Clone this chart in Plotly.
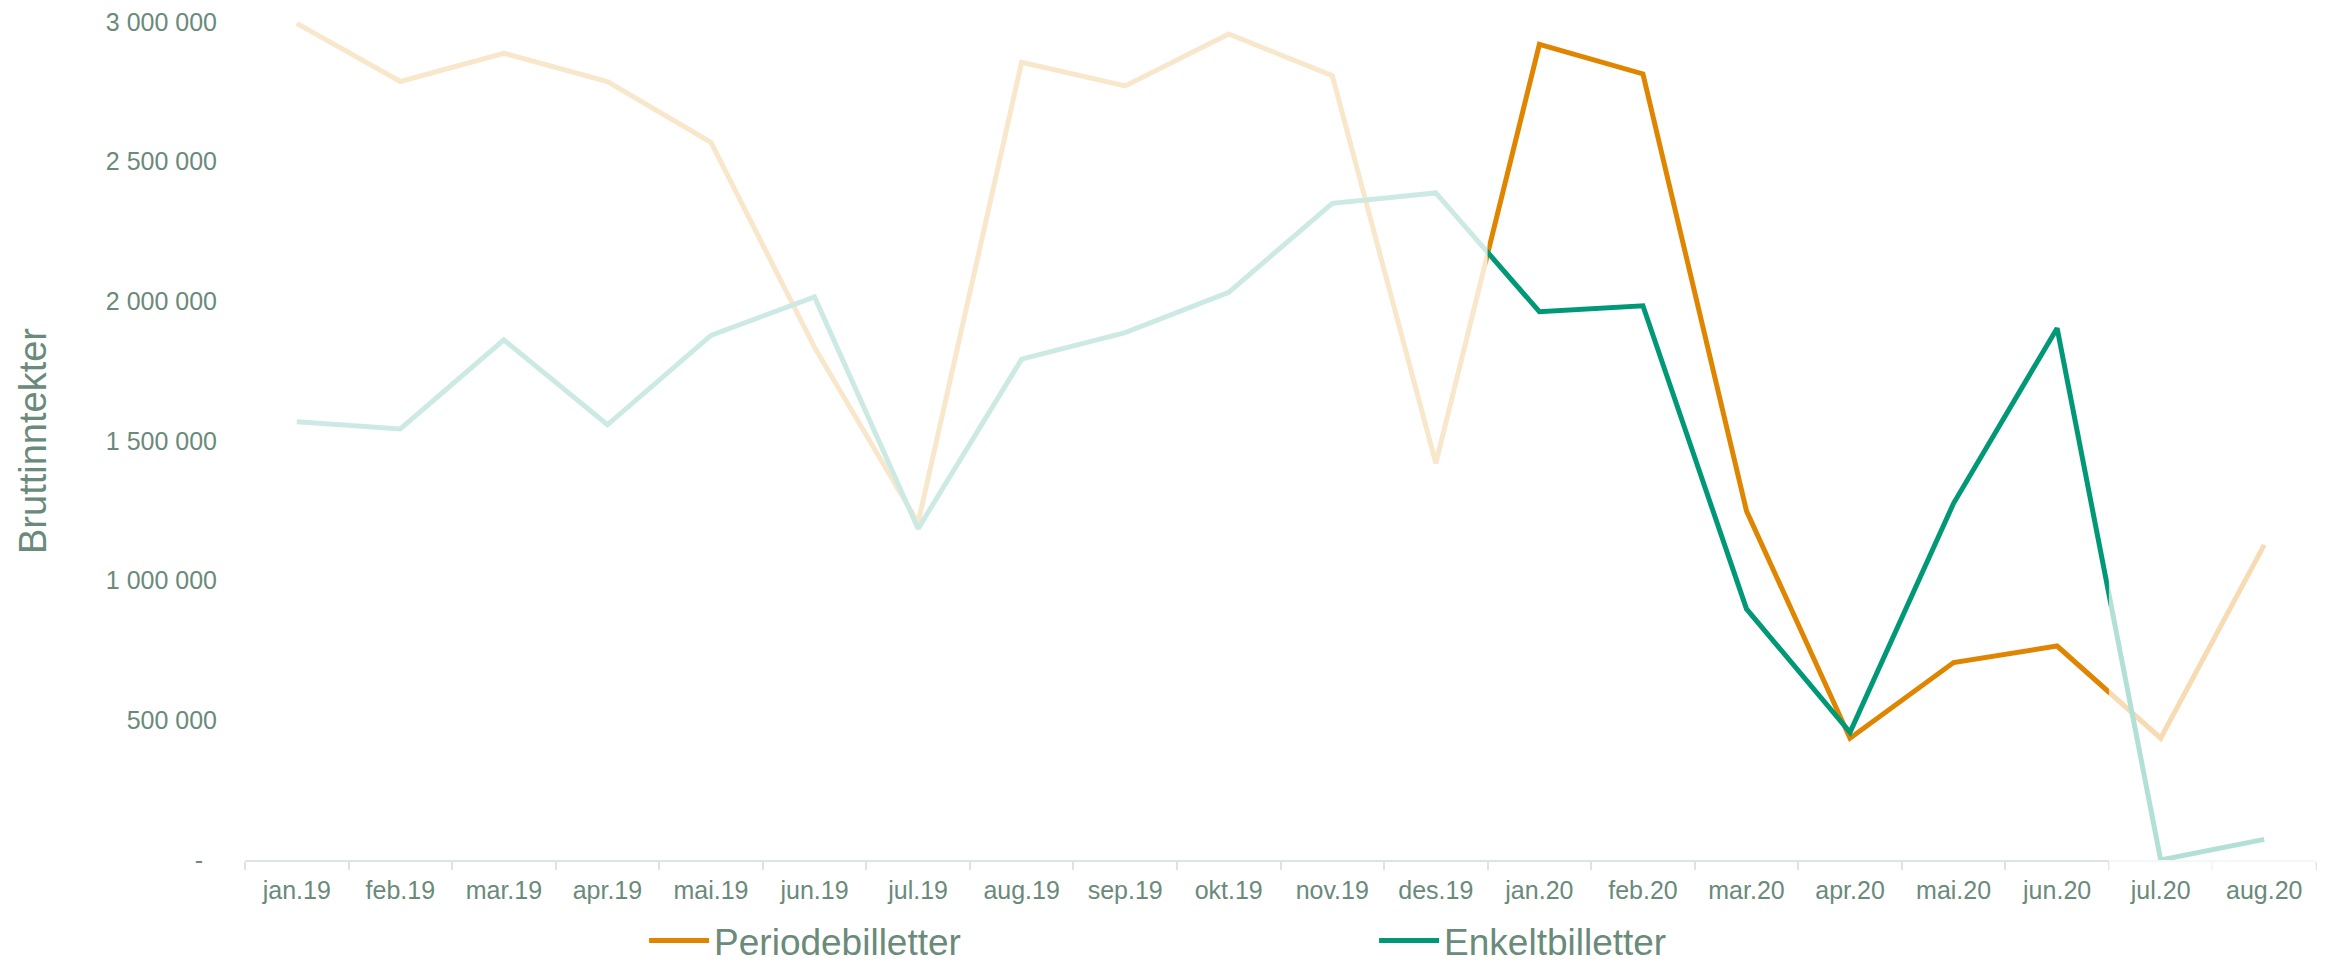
import plotly.graph_objects as go

months = ["jan.19", "feb.19", "mar.19", "apr.19", "mai.19", "jun.19", "jul.19", "aug.19",
          "sep.19", "okt.19", "nov.19", "des.19", "jan.20", "feb.20", "mar.20", "apr.20",
          "mai.20", "jun.20", "jul.20", "aug.20"]

periodebilletter = [2995000, 2787000, 2888000, 2787000, 2569000, 1835000, 1207000, 2856000,
                    2771000, 2957000, 2808000, 1420000, 2920000, 2814000, 1250000, 436000,
                    707000, 766000, 436000, 1128000]

enkeltbilletter = [1569000, 1543000, 1862000, 1558000, 1878000, 2016000, 1186000, 1793000,
                   1888000, 2032000, 2351000, 2388000, 1963000, 1984000, 899000, 457000,
                   1277000, 1904000, 0, 74000]

highlight = ["jan.20", "feb.20", "mar.20", "apr.20", "mai.20", "jun.20"]

y_tickvals = [0, 500000, 1000000, 1500000, 2000000, 2500000, 3000000]
y_ticktext = ["-\u00a0\u00a0", "500 000", "1 000 000", "1 500 000", "2 000 000", "2 500 000", "3 000 000"]

ORANGE = "#E08500"
GREEN = "#009876"
TEXT = "#6A8A7A"
AXIS = "#DDE5E3"
FONT = "Liberation Sans, Arial, sans-serif"

x = list(range(len(months)))

fig = go.Figure()
fig.add_trace(go.Scatter(x=x, y=periodebilletter, mode="lines", name="Periodebilletter",
                         line=dict(color=ORANGE, width=5)))
fig.add_trace(go.Scatter(x=x, y=enkeltbilletter, mode="lines", name="Enkeltbilletter",
                         line=dict(color=GREEN, width=5)))

h0 = months.index(highlight[0]) - 0.5
h1 = months.index(highlight[-1]) + 0.5
xmin, xmax = -0.5, len(months) - 0.5

# fading overlays outside the highlighted period
fig.add_shape(type="rect", xref="x", yref="paper", x0=xmin - 1, x1=h0, y0=0.004, y1=1.05,
              fillcolor="white", opacity=0.8, line_width=0, layer="above")
fig.add_shape(type="rect", xref="x", yref="paper", x0=h1, x1=xmax + 1, y0=-0.02, y1=1.05,
              fillcolor="white", opacity=0.7, line_width=0, layer="above")

W, H = 2320, 954
fig.update_layout(
    width=W, height=H,
    margin=dict(l=237, r=12, t=14, b=102),
    paper_bgcolor="white", plot_bgcolor="white",
    font=dict(family=FONT, color=TEXT, size=25),
    showlegend=True,
    legend=dict(orientation="h", x=0.1927, xanchor="left", xref="paper",
                y=1 - 933 / H, yanchor="middle", yref="container",
                font=dict(size=37, color=TEXT), entrywidth=655, entrywidthmode="pixels",
                itemwidth=60, bgcolor="rgba(0,0,0,0)"),
    xaxis=dict(range=[xmin, xmax], tickvals=x, ticktext=months, showgrid=False, zeroline=False,
               showline=True, linecolor=AXIS, linewidth=2, ticks="", ticklabelstandoff=7,
               automargin=False, tickfont=dict(size=25, color=TEXT),
               minor=dict(tickvals=[i - 0.5 for i in range(len(months) + 1)], ticks="outside",
                          ticklen=8, tickcolor=AXIS, tickwidth=1.5, showgrid=False)),
    yaxis=dict(range=[0, 3000000], tickvals=y_tickvals, ticktext=y_ticktext, showgrid=False,
               zeroline=False, showline=False, ticks="", ticklabelstandoff=27,
               automargin=False, ticklabeloverflow="allow", tickfont=dict(size=25, color=TEXT)),
    annotations=[dict(text="Bruttinntekter", xref="paper", yref="paper",
                      x=(33 - 245) / 2071, y=(860 - 441) / 838, xanchor="center", yanchor="middle",
                      textangle=-90, showarrow=False, font=dict(size=38, color=TEXT))],
)

fig.write_html("out.html")
